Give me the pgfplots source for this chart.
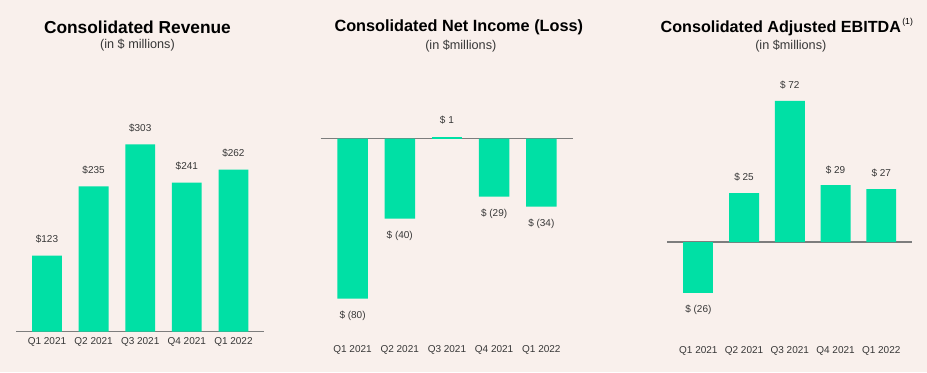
\documentclass[border=0pt]{standalone}
\usepackage{pgfplots}
\pgfplotsset{compat=1.18}
\usepackage{fontspec}
\setmainfont{Liberation Sans}
\definecolor{bg}{RGB}{249,240,236}
\definecolor{barc}{RGB}{0,224,165}
\definecolor{axisgray}{RGB}{125,125,125}
\definecolor{labelgray}{RGB}{55,55,55}
\pgfplotsset{
  mybar/.style={
    scale only axis,
    anchor=south west,
    ybar,
    axis line style={draw=none},
    ytick=\empty,
    xtick={0,1,2,3,4},
    xticklabels={Q1 2021,Q2 2021,Q3 2021,Q4 2021,Q1 2022},
    major tick length=0pt,
    tick label style={font=\fontsize{7.5}{9}\selectfont, text=labelgray},
    xticklabel style={anchor=center, yshift=-7.9pt},
    extra y ticks={0},
    extra y tick labels={},
    extra y tick style={grid=major, major grid style={draw=axisgray, line width=0.8pt}},
    point meta=explicit symbolic,
    clip=false,
  },
  posbar/.style={fill=barc, draw=none, bar shift=0pt, nodes near coords,
    nodes near coords style={font=\fontsize{7.5}{9}\selectfont, text=labelgray, anchor=center, yshift=#1}},
  negbar/.style={fill=barc, draw=none, bar shift=0pt, nodes near coords,
    nodes near coords style={font=\fontsize{7.5}{9}\selectfont, text=labelgray, anchor=center, yshift=-#1}},
}
\begin{document}
\begin{tikzpicture}
\fill[bg] (0,0) rectangle (695.25pt,279pt);
\useasboundingbox (0,0) rectangle (695.25pt,279pt);

% Panel 1
\node[font=\bfseries\fontsize{13}{15}\selectfont] at (103.1pt,258.4pt) {Consolidated Revenue};
\node[font=\fontsize{9.5}{11}\selectfont, text=labelgray] at (103.1pt,245.25pt) {(in \$ millions)};
\begin{axis}[mybar, at={(12.15pt,30.375pt)}, width=186pt, height=162.2pt,
  xmin=-0.66, xmax=4.66, ymin=0, ymax=350, bar width=0.64]
\addplot[posbar=12pt] coordinates {(0,123) [\$123] (1,235) [\$235] (2,303) [\$303] (3,241) [\$241] (4,262) [\$262]};
\end{axis}

% Panel 2
\node[font=\bfseries\fontsize{12.2}{14}\selectfont] at (344.1pt,258.4pt) {Consolidated Net Income (Loss)};
\node[font=\fontsize{9.5}{11}\selectfont, text=labelgray] at (345.6pt,244.1pt) {(in \$millions)};
\begin{axis}[mybar, at={(240.5pt,24.375pt)}, width=189.2pt, height=180.6pt,
  xmin=-0.676, xmax=4.67, ymin=-100.4, ymax=20, bar width=0.646]
\addplot[negbar=12.9pt] coordinates {(0,-80) [\$ (80)] (1,-40) [\$ (40)] (3,-29) [\$ (29)] (4,-34) [\$ (34)]};
\addplot[posbar=12.3pt] coordinates {(2,1) [\$ 1]};
\end{axis}

% Panel 3
\node[font=\bfseries\fontsize{12.1}{14}\selectfont] at (585.6pt,258.4pt) {Consolidated Adjusted EBITDA\rlap{\raisebox{0.5em}{\mdseries\fontsize{6.5}{8}\selectfont\,(1)}}};
\node[font=\fontsize{9.5}{11}\selectfont, text=labelgray] at (593.1pt,244.1pt) {(in \$millions)};
\begin{axis}[mybar, at={(500.5pt,23.85pt)}, width=183.75pt, height=191.25pt,
  xmin=-0.678, xmax=4.68, ymin=-50.1, ymax=80, bar width=0.656]
\addplot[negbar=12.8pt] coordinates {(0,-26) [\$ (26)]};
\addplot[posbar=11.6pt] coordinates {(1,25) [\$ 25] (2,72) [\$ 72] (3,29) [\$ 29] (4,27) [\$ 27]};
\end{axis}
\end{tikzpicture}
\end{document}
